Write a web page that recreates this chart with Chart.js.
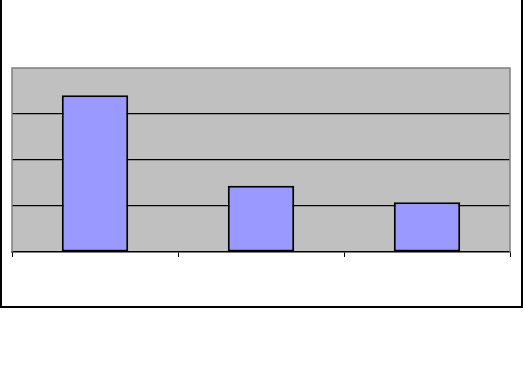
<!DOCTYPE html>
<html>
<head>
<meta charset="utf-8">
<script src="https://cdn.jsdelivr.net/npm/chart.js@4/dist/chart.umd.min.js"></script>
<style>
html,body{margin:0;padding:0;background:#fff;}
#wrap{width:525px;height:378px;position:relative;}
</style>
</head>
<body>
<div id="wrap"><canvas id="c" width="525" height="378"></canvas></div>
<script>
const categories = ["1", "2", "3"];
const seriesValues = [3.41, 1.44, 1.08];
const yTicks = [0, 1, 2, 3, 4];

const frame = {
  id: 'frame',
  beforeDraw(chart) {
    const ctx = chart.ctx, a = chart.chartArea;
    ctx.save();
    ctx.fillStyle = '#ffffff';
    ctx.fillRect(0, 0, chart.width, chart.height);
    ctx.fillStyle = '#C0C0C0';
    ctx.fillRect(a.left, a.top, a.right - a.left, a.bottom - a.top);
    ctx.strokeStyle = '#000000';
    ctx.lineWidth = 2;
    ctx.beginPath();
    ctx.moveTo(1, 0);
    ctx.lineTo(1, 307);
    ctx.lineTo(522, 307);
    ctx.lineTo(522, 0);
    ctx.stroke();
    ctx.restore();
  },
  afterDatasetsDraw(chart) {
    const ctx = chart.ctx, a = chart.chartArea;
    ctx.save();
    ctx.strokeStyle = '#808080';
    ctx.lineWidth = 1.5;
    ctx.beginPath();
    ctx.moveTo(a.left, a.bottom);
    ctx.lineTo(a.left, a.top);
    ctx.lineTo(a.right, a.top);
    ctx.lineTo(a.right, a.bottom);
    ctx.stroke();
    ctx.restore();
  }
};

new Chart(document.getElementById('c'), {
  type: 'bar',
  data: {
    labels: categories,
    datasets: [{
      data: seriesValues,
      backgroundColor: '#9999FF',
      borderColor: '#000000',
      borderWidth: 2,
      borderSkipped: false,
      barPercentage: 0.4,
      categoryPercentage: 1.0
    }]
  },
  options: {
    responsive: false,
    animation: false,
    devicePixelRatio: 1,
    layout: { padding: { left: 12, top: 68, right: 15, bottom: 126 } },
    plugins: { legend: { display: false }, tooltip: { enabled: false } },
    scales: {
      x: {
        afterFit(s) { s.height = 0; },
        ticks: { display: false },
        grid: { offset: true, drawOnChartArea: false, drawTicks: true, tickLength: 5, color: '#000000', lineWidth: 1 },
        border: { display: true, color: '#000000', width: 1.5 }
      },
      y: {
        min: yTicks[0],
        max: yTicks[yTicks.length - 1],
        afterFit(s) { s.width = 0; },
        afterBuildTicks(s) { s.ticks = yTicks.map(v => ({ value: v })); },
        ticks: { display: false },
        grid: {
          drawTicks: false,
          color: (c) => (c.tick && (c.tick.value === yTicks[0] || c.tick.value === yTicks[yTicks.length - 1])) ? 'rgba(0,0,0,0)' : '#000000',
          lineWidth: 1.2
        },
        border: { display: false }
      }
    }
  },
  plugins: [frame]
});
</script>
</body>
</html>
